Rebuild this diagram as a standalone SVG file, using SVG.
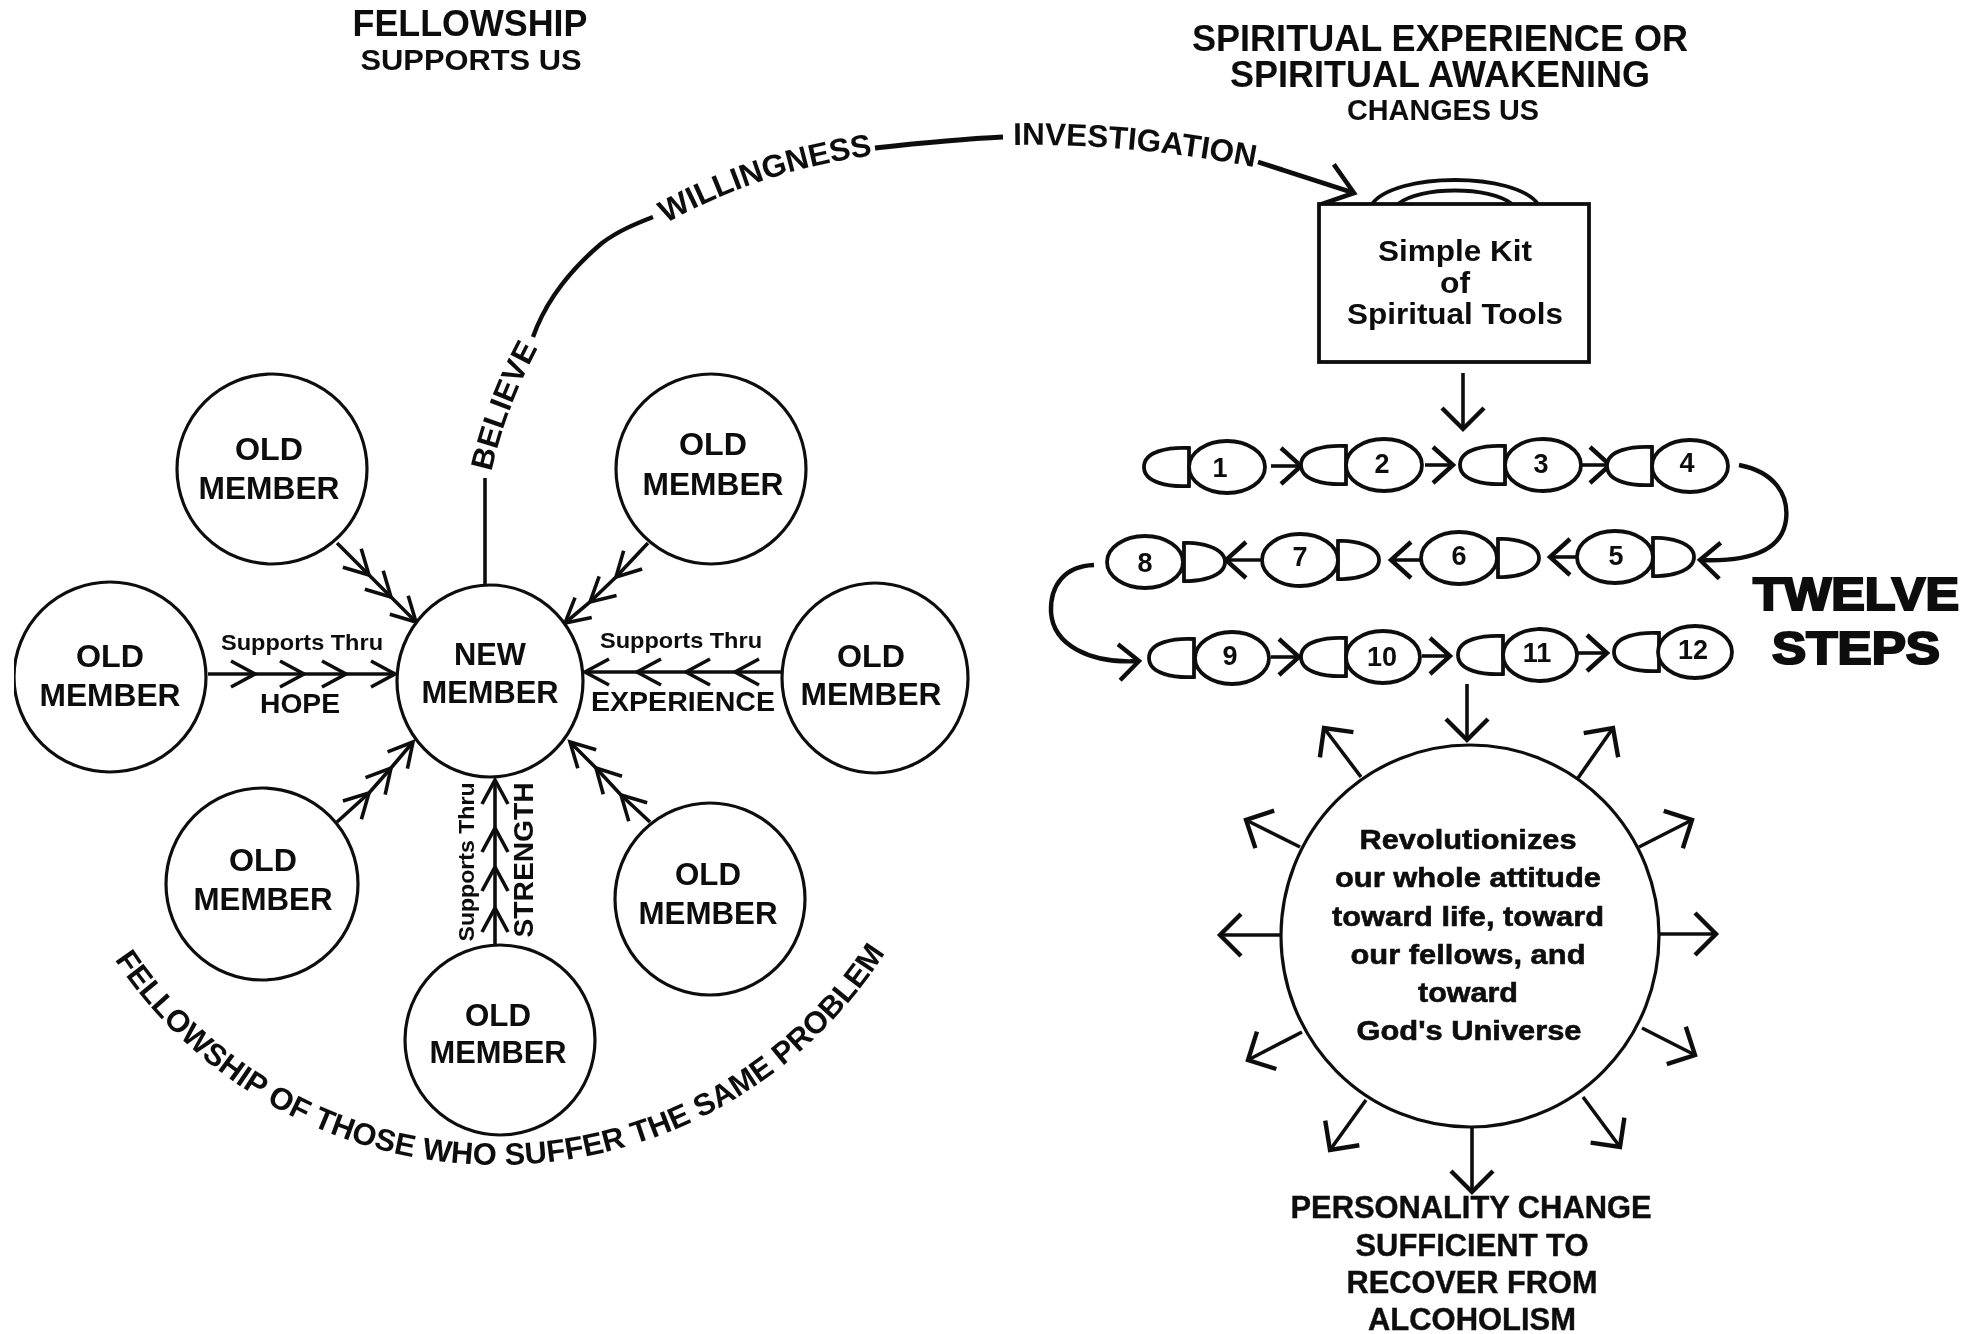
<svg xmlns="http://www.w3.org/2000/svg" width="1982" height="1334" viewBox="0 0 1982 1334">
<style>
text{font-family:"Liberation Sans",Arial,sans-serif;font-weight:700;fill:#0c0c0c;text-anchor:middle}
.n{fill:#fff;stroke:#111;stroke-width:3.2}
.s{fill:#fff;stroke:#111;stroke-width:3.8}
.c{fill:none;stroke:#111;stroke-width:3.6}
.m{font-size:31px}
.h{font-size:36px}
.h2{font-size:29px}
.t{font-size:22px}
.l{font-size:28px}
.b{font-size:29px}
.d{font-size:27px}
.r{font-size:28px;stroke:#0c0c0c;stroke-width:.6}
.p{font-size:31px;stroke:#0c0c0c;stroke-width:.4}
.tw{font-size:46px;stroke:#0c0c0c;stroke-width:2.2}
.a3{marker-mid:url(#chev);marker-end:url(#chev)}
.ar{marker-end:url(#head)}
.as{marker-end:url(#step)}
</style>
<defs>
<filter id="scan" x="0" y="0" width="100%" height="100%"><feGaussianBlur stdDeviation="0.65"/></filter>
<marker id="chev" markerUnits="userSpaceOnUse" overflow="visible" orient="auto" markerWidth="40" markerHeight="40" refX="0" refY="0"><path d="M-24,-13 L0,0 L-24,13" fill="none" stroke="#111" stroke-width="3.6"/></marker>
<marker id="head" markerUnits="userSpaceOnUse" overflow="visible" orient="auto" markerWidth="50" markerHeight="50" refX="0" refY="0"><path d="M-21,-21 L0,0 L-21,21" fill="none" stroke="#111" stroke-width="4.4"/></marker>
<marker id="bighead" markerUnits="userSpaceOnUse" overflow="visible" orient="auto" markerWidth="50" markerHeight="50" refX="0" refY="0"><path d="M-28,-21 L0,0 L-28,21" fill="none" stroke="#111" stroke-width="4.6"/></marker>
<marker id="step" markerUnits="userSpaceOnUse" overflow="visible" orient="auto" markerWidth="40" markerHeight="40" refX="0" refY="0"><path d="M-20,-18 L0,0 L-20,18" fill="none" stroke="#111" stroke-width="4.4"/></marker>
<path id="dl" d="M0,-19 C-20,-20 -45,-16 -45,0 C-45,16 -20,20 0,19 Z"/>
<path id="dr" d="M0,-19 C14,-20 41,-15 41,0 C41,15 14,20 0,19 Z"/>
<path id="pBelieve" d="M490,478 Q504,410 541,342"/>
<path id="pWill" d="M663,225 Q760,170 876,155"/>
<path id="pInv" d="M1009,145 Q1132,143 1259,168"/>
<path id="pFellow" d="M113,957 A460,460 0 0 0 887,950"/>
</defs>
<rect width="1982" height="1334" fill="#fff"/>
<g filter="url(#scan)">
<g id="connectors">
<path class="c" d="M485,586 V478"/>
<path class="c" style="stroke-width:4.4" d="M533,337 C546,300 570,270 602,243 C618,231 635,224 653,217"/>
<path class="c" style="stroke-width:5" d="M875,148 C920,143 960,139 1003,137"/>
<path class="c" style="stroke-width:4.8;marker-end:url(#bighead)" d="M1258,162 L1354,193"/>
<polyline class="c a3" points="208,674 255,674 304,674 346,674 395,674"/>
<polyline class="c a3" points="782,672 735,672 686,672 637,672 585,672"/>
<polyline class="c a3" points="337,543 369,575 391,597 416,622"/>
<polyline class="c a3" points="648,543 616,577 590,602 565,623"/>
<polyline class="c a3" points="337,822 369,793 391,768 413,742"/>
<polyline class="c a3" points="650,822 621,795 596,768 570,742"/>
<polyline class="c a3" points="495,945 495,908 495,867 495,828 495,780"/>
<path class="c ar" d="M1463,373 V429"/>
<path class="c ar" d="M1467,684 V740"/>
<path class="c ar" d="M1361,777 L1324,728"/>
<path class="c ar" d="M1578,778 L1613,728"/>
<path class="c ar" d="M1639,847 L1692,820"/>
<path class="c ar" d="M1659,934 H1716"/>
<path class="c ar" d="M1642,1028 L1695,1055"/>
<path class="c ar" d="M1583,1097 L1620,1147"/>
<path class="c ar" d="M1472,1128 V1192"/>
<path class="c ar" d="M1366,1100 L1330,1150"/>
<path class="c ar" d="M1302,1032 L1248,1060"/>
<path class="c ar" d="M1280,935 H1220"/>
<path class="c ar" d="M1300,847 L1246,820"/>
<path class="c as" d="M1271,466 H1301"/>
<path class="c as" d="M1425,465 H1453"/>
<path class="c as" d="M1581,465 H1610"/>
<path class="c as" d="M1576,557 H1550"/>
<path class="c as" d="M1420,560 H1391"/>
<path class="c as" d="M1261,560 H1226"/>
<path class="c as" d="M1271,657 H1299"/>
<path class="c as" d="M1422,656 H1450"/>
<path class="c as" d="M1578,653 H1607"/>
<path class="c as" style="stroke-width:4.4" d="M1739,465 C1775,472 1789,495 1786,520 C1782,550 1750,562 1700,560"/>
<path class="c as" style="stroke-width:4.4" d="M1094,565 C1065,566 1050,585 1051,612 C1053,645 1090,664 1139,661"/>
</g>
<g id="fellowship-title"><text class="h" x="470" y="36" textLength="235" lengthAdjust="spacingAndGlyphs">FELLOWSHIP</text><text class="h2" x="471" y="70" textLength="221" lengthAdjust="spacingAndGlyphs">SUPPORTS US</text></g>
<g id="spiritual-title"><text class="h" x="1440" y="51" textLength="496" lengthAdjust="spacingAndGlyphs">SPIRITUAL EXPERIENCE OR</text><text class="h" x="1440" y="87" textLength="420" lengthAdjust="spacingAndGlyphs">SPIRITUAL AWAKENING</text><text class="h2" x="1443" y="120" textLength="192" lengthAdjust="spacingAndGlyphs">CHANGES US</text></g>
<g id="label-believe"><text class="l" style="font-size:31px"><textPath href="#pBelieve" startOffset="50%">BELIEVE</textPath></text></g>
<g id="label-willingness"><text class="l" style="font-size:31.5px"><textPath href="#pWill" startOffset="50%">WILLINGNESS</textPath></text></g>
<g id="label-investigation"><text class="l" style="font-size:31.5px"><textPath href="#pInv" startOffset="50%">INVESTIGATION</textPath></text></g>
<g id="label-fellowship-arc"><text class="l" style="font-size:30.8px"><textPath href="#pFellow" startOffset="50%">FELLOWSHIP OF THOSE WHO SUFFER THE SAME PROBLEM</textPath></text></g>
<g id="old-member-1"><circle class="n" cx="272" cy="469" r="95"/><text class="m" x="269" y="460" textLength="68" lengthAdjust="spacingAndGlyphs">OLD</text><text class="m" x="269" y="499" textLength="141" lengthAdjust="spacingAndGlyphs">MEMBER</text></g>
<g id="old-member-2"><circle class="n" cx="711" cy="469" r="95"/><text class="m" x="713" y="455" textLength="68" lengthAdjust="spacingAndGlyphs">OLD</text><text class="m" x="713" y="495" textLength="141" lengthAdjust="spacingAndGlyphs">MEMBER</text></g>
<g id="old-member-3"><ellipse class="n" cx="110" cy="677" rx="96" ry="95"/><text class="m" x="110" y="667" textLength="68" lengthAdjust="spacingAndGlyphs">OLD</text><text class="m" x="110" y="706" textLength="141" lengthAdjust="spacingAndGlyphs">MEMBER</text></g>
<g id="old-member-4"><ellipse class="n" cx="875" cy="678" rx="93" ry="95"/><text class="m" x="871" y="667" textLength="68" lengthAdjust="spacingAndGlyphs">OLD</text><text class="m" x="871" y="705" textLength="141" lengthAdjust="spacingAndGlyphs">MEMBER</text></g>
<g id="new-member"><ellipse class="n" cx="490" cy="681" rx="93" ry="96"/><text class="m" x="490" y="665" textLength="72" lengthAdjust="spacingAndGlyphs">NEW</text><text class="m" x="490" y="703" textLength="137" lengthAdjust="spacingAndGlyphs">MEMBER</text></g>
<g id="old-member-5"><circle class="n" cx="262" cy="884" r="96"/><text class="m" x="263" y="871" textLength="68" lengthAdjust="spacingAndGlyphs">OLD</text><text class="m" x="263" y="910" textLength="139" lengthAdjust="spacingAndGlyphs">MEMBER</text></g>
<g id="old-member-6"><ellipse class="n" cx="710" cy="899" rx="95" ry="96"/><text class="m" x="708" y="885" textLength="66" lengthAdjust="spacingAndGlyphs">OLD</text><text class="m" x="708" y="924" textLength="139" lengthAdjust="spacingAndGlyphs">MEMBER</text></g>
<g id="old-member-7"><circle class="n" cx="500" cy="1040" r="95"/><text class="m" x="498" y="1026" textLength="66" lengthAdjust="spacingAndGlyphs">OLD</text><text class="m" x="498" y="1063" textLength="137" lengthAdjust="spacingAndGlyphs">MEMBER</text></g>
<g id="label-hope"><text class="t" x="302" y="650" textLength="162" lengthAdjust="spacingAndGlyphs">Supports Thru</text><text class="l" x="300" y="713" textLength="80" lengthAdjust="spacingAndGlyphs">HOPE</text></g>
<g id="label-experience"><text class="t" x="681" y="648" textLength="162" lengthAdjust="spacingAndGlyphs">Supports Thru</text><text class="l" x="683" y="711" textLength="184" lengthAdjust="spacingAndGlyphs">EXPERIENCE</text></g>
<g id="label-strength"><text class="t" transform="translate(474,862) rotate(-90)" textLength="159" lengthAdjust="spacingAndGlyphs">Supports Thru</text><text class="l" transform="translate(533,860) rotate(-90)" textLength="155" lengthAdjust="spacingAndGlyphs">STRENGTH</text></g>
<g id="kit"><path class="s" d="M1372,204 C1395,172 1515,172 1538,204"/><path class="s" d="M1398,204 C1420,186 1490,186 1512,204"/><rect class="s" x="1319" y="204" width="270" height="158"/><text class="b" x="1455" y="261" textLength="154" lengthAdjust="spacingAndGlyphs">Simple Kit</text><text class="b" x="1455" y="293" textLength="30" lengthAdjust="spacingAndGlyphs">of</text><text class="b" x="1455" y="324" textLength="216" lengthAdjust="spacingAndGlyphs">Spiritual Tools</text></g>
<g id="step-1"><use class="s" href="#dl" x="1189" y="467"/><ellipse class="s" cx="1227" cy="467" rx="38" ry="26"/><text class="d" x="1220" y="477">1</text></g>
<g id="step-2"><use class="s" href="#dl" x="1346" y="465"/><ellipse class="s" cx="1384" cy="465" rx="38" ry="26"/><text class="d" x="1382" y="473">2</text></g>
<g id="step-3"><use class="s" href="#dl" x="1505" y="465"/><ellipse class="s" cx="1543" cy="465" rx="38" ry="26"/><text class="d" x="1541" y="473">3</text></g>
<g id="step-4"><use class="s" href="#dl" x="1652" y="466"/><ellipse class="s" cx="1690" cy="466" rx="38" ry="26"/><text class="d" x="1687" y="472">4</text></g>
<g id="step-5"><use class="s" href="#dr" x="1653" y="557"/><ellipse class="s" cx="1615" cy="557" rx="38" ry="26"/><text class="d" x="1616" y="565">5</text></g>
<g id="step-6"><use class="s" href="#dr" x="1498" y="558"/><ellipse class="s" cx="1459" cy="558" rx="38" ry="26"/><text class="d" x="1459" y="565">6</text></g>
<g id="step-7"><use class="s" href="#dr" x="1338" y="560"/><ellipse class="s" cx="1300" cy="560" rx="38" ry="26"/><text class="d" x="1300" y="566">7</text></g>
<g id="step-8"><use class="s" href="#dr" x="1184" y="562"/><ellipse class="s" cx="1145" cy="562" rx="38" ry="26"/><text class="d" x="1145" y="572">8</text></g>
<g id="step-9"><use class="s" href="#dl" x="1194" y="658"/><ellipse class="s" cx="1232" cy="658" rx="37" ry="26"/><text class="d" x="1230" y="665">9</text></g>
<g id="step-10"><use class="s" href="#dl" x="1346" y="657"/><ellipse class="s" cx="1383" cy="657" rx="37" ry="26"/><text class="d" x="1382" y="666">10</text></g>
<g id="step-11"><use class="s" href="#dl" x="1503" y="655"/><ellipse class="s" cx="1540" cy="655" rx="37" ry="26"/><text class="d" x="1537" y="662">11</text></g>
<g id="step-12"><use class="s" href="#dl" x="1659" y="652"/><ellipse class="s" cx="1695" cy="652" rx="37" ry="26"/><text class="d" x="1693" y="659">12</text></g>
<g id="twelve-steps"><text class="tw" x="1856" y="610" textLength="206" lengthAdjust="spacingAndGlyphs">TWELVE</text><text class="tw" x="1856" y="664" textLength="168" lengthAdjust="spacingAndGlyphs">STEPS</text></g>
<g id="revolutionizes"><ellipse class="n" cx="1470" cy="936" rx="189" ry="191"/>
<text class="r" x="1468" y="849" textLength="217" lengthAdjust="spacingAndGlyphs">Revolutionizes</text>
<text class="r" x="1468" y="887" textLength="266" lengthAdjust="spacingAndGlyphs">our whole attitude</text>
<text class="r" x="1468" y="926" textLength="272" lengthAdjust="spacingAndGlyphs">toward life, toward</text>
<text class="r" x="1468" y="964" textLength="235" lengthAdjust="spacingAndGlyphs">our fellows, and</text>
<text class="r" x="1468" y="1002" textLength="100" lengthAdjust="spacingAndGlyphs">toward</text>
<text class="r" x="1469" y="1040" textLength="225" lengthAdjust="spacingAndGlyphs">God's Universe</text></g>
<g id="personality-change">
<text class="p" x="1471" y="1218" textLength="361" lengthAdjust="spacingAndGlyphs">PERSONALITY CHANGE</text>
<text class="p" x="1472" y="1256" textLength="233" lengthAdjust="spacingAndGlyphs">SUFFICIENT TO</text>
<text class="p" x="1472" y="1293" textLength="251" lengthAdjust="spacingAndGlyphs">RECOVER FROM</text>
<text class="p" x="1472" y="1330" textLength="208" lengthAdjust="spacingAndGlyphs">ALCOHOLISM</text></g>
</g>
</svg>
